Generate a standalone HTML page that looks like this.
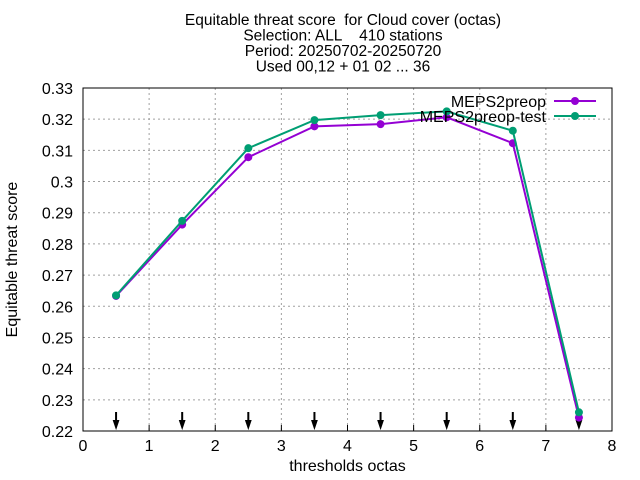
<!DOCTYPE html>
<html><head><meta charset="utf-8"><style>body{margin:0;background:#fff}svg{display:block;font-family:"Liberation Sans",sans-serif}text{white-space:pre}</style></head>
<body>
<svg id="chart" width="640" height="480" viewBox="0 0 640 480">
<g id="g"></g>
</svg>
<script>
const xTicks=[0,1,2,3,4,5,6,7,8];
const yTicks=[0.22,0.23,0.24,0.25,0.26,0.27,0.28,0.29,0.3,0.31,0.32,0.33];
const yTickLabels=["0.22","0.23","0.24","0.25","0.26","0.27","0.28","0.29","0.3","0.31","0.32","0.33"];
const thresholds=[0.5,1.5,2.5,3.5,4.5,5.5,6.5,7.5];
const meps=[0.2633,0.2862,0.3078,0.3177,0.3184,0.3206,0.3123,0.2243];
const mepsTest=[0.2635,0.2874,0.3107,0.3197,0.3213,0.3225,0.3163,0.2260];
const L=83,R=612,T=88,B=431;
const X=v=>L+(v-0)/(8-0)*(R-L);
const Y=v=>B-(v-0.22)/(0.33-0.22)*(B-T);
const g=document.getElementById('g');
const NS='http://www.w3.org/2000/svg';
function mk(t,a,p){const e=document.createElementNS(NS,t);for(const k in a)e.setAttribute(k,a[k]);(p||g).appendChild(e);return e;}
const titles=["Equitable threat score  for Cloud cover (octas)","Selection: ALL    410 stations","Period: 20250702-20250720","Used 00,12 + 01 02 ... 36"];
titles.forEach((s,i)=>{const t=mk('text',{x:343,y:25+i*15.5,'text-anchor':'middle','font-size':15.5});t.textContent=s;

});
xTicks.forEach(v=>{if(v>0&&v<8){const l=mk('line',{x1:X(v),x2:X(v),y1:T,y2:B,stroke:'#a0a0a0','stroke-dasharray':'2,3'});

}
const tk=mk('line',{x1:X(v),x2:X(v),y1:B,y2:B-6,stroke:'#000'});


const t=mk('text',{x:X(v),y:B+20,'text-anchor':'middle','font-size':16});t.textContent=v;

});
yTicks.forEach((v,i)=>{if(i>0&&i<yTicks.length-1){const l=mk('line',{x1:L,x2:R,y1:Y(v),y2:Y(v),stroke:'#a0a0a0','stroke-dasharray':'2,3'});

}
const t=mk('text',{x:L-10,y:Y(v)+6,'text-anchor':'end','font-size':16});t.textContent=yTickLabels[i];

});
const fr=mk('rect',{x:L,y:T,width:R-L,height:B-T,fill:'none',stroke:'#000'});


const xt=mk('text',{x:(L+R)/2,y:471,'text-anchor':'middle','font-size':16});xt.textContent='thresholds octas';


const yt=mk('text',{x:17,y:(T+B)/2,'text-anchor':'middle','font-size':16,transform:`rotate(-90 17 ${(T+B)/2})`});yt.textContent='Equitable threat score';


thresholds.forEach(v=>{const a=mk('path',{d:`M${X(v)} 412 V426 M${X(v)-2} 421 L${X(v)} 427 L${X(v)+2} 421 Z`,stroke:'#000','stroke-width':2,fill:'#000'});

});
function series(vals,color,name){
const pl=mk('polyline',{points:vals.map((v,i)=>X(thresholds[i])+','+Y(v)).join(' '),fill:'none',stroke:color,'stroke-width':2});


vals.forEach((v,i)=>{const c=mk('circle',{cx:X(thresholds[i]),cy:Y(v),r:4,fill:color});

});}
series(meps,'#9400d3','meps2preop');
series(mepsTest,'#009e73','meps2preop-test');
[['MEPS2preop','#9400d3',101],['MEPS2preop-test','#009e73',116]].forEach(([s,c,y])=>{
const t=mk('text',{x:546,y:y+6,'text-anchor':'end','font-size':16});t.textContent=s;


const l=mk('line',{x1:554,x2:596,y1:y,y2:y,stroke:c,'stroke-width':2});


const m=mk('circle',{cx:575,cy:y,r:4,fill:c});

});
</script>
</body></html>
